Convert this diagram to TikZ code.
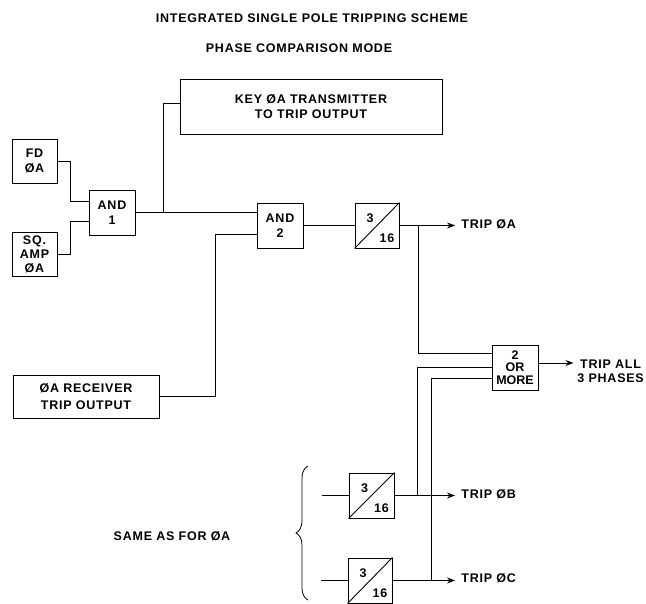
\documentclass[tikz,border=0pt]{standalone}
\usepackage{fontspec}
\setmainfont{Liberation Sans}[LetterSpace=6]
\usetikzlibrary{arrows.meta,decorations.pathreplacing,calc}
\begin{document}
\begin{tikzpicture}[x=1pt,y=-1pt,line width=0.9pt,
  every node/.style={font=\fontsize{12.5}{15}\selectfont\bfseries, inner sep=0pt},
  blk/.style={draw, align=center, minimum width=45pt, minimum height=44pt},
  wide/.style={draw, align=center},
  lbl/.style={align=left, anchor=west},
  arr/.style={-{Stealth[length=8pt,width=6pt]}, shorten >=6pt}]
\useasboundingbox (0,0) rectangle (646,604);
\node (t1) at (312,18) {INTEGRATED SINGLE POLE TRIPPING SCHEME};
\node (t2) at (299,48) {PHASE COMPARISON MODE};
\node[blk] (FD) at (34.5,161) {FD\\ØA};
\node[blk, font=\fontsize{12.5}{14}\selectfont\bfseries] (SQ) at (34.5,254) {SQ.\\AMP\\ØA};
\node[blk, minimum width=46pt, minimum height=45pt] (AND1) at (112,212.5) {AND\\1};
\node[wide, minimum width=262pt, minimum height=55pt] (KEY) at (311,106.5) {KEY ØA TRANSMITTER\\TO TRIP OUTPUT};
\node[blk, minimum width=46pt, minimum height=45pt] (AND2) at (280,225.5) {AND\\2};
\node[wide, minimum width=146pt, minimum height=43pt] (REC) at (86,396.5) {ØA RECEIVER\\[2pt]TRIP OUTPUT};
\node[blk, minimum width=44pt, minimum height=45pt] (T1) at (377,225.5) {};
\node[blk, minimum width=45pt, minimum height=45pt] (TB) at (371.5,495.5) {};
\node[blk, minimum width=44pt, minimum height=45pt] (TC) at (370,580.5) {};
\node[blk, minimum width=46pt, minimum height=45pt, font=\fontsize{12.5}{12.5}\selectfont\bfseries\addfontfeatures{LetterSpace=0}] (OR) at (515,367.5) {2\\OR\\MORE};
\foreach \n in {T1,TB,TC}{
  \draw (\n.south west) -- (\n.north east);
  \node (\n-a) at ([xshift=-7pt,yshift=7.5pt]\n.center) {3};
  \node (\n-b) at ([xshift=10pt,yshift=-12.5pt]\n.center) {16};
}
\node[lbl] (trA) at (461,224) {TRIP ØA};
\node[lbl] (trB) at (461,494) {TRIP ØB};
\node[lbl] (trC) at (461,578) {TRIP ØC};
\node[align=center, anchor=west, font=\fontsize{12.5}{13.5}\selectfont\bfseries] (trAll) at (577,371.5) {TRIP ALL\\3 PHASES};
\node (same) at (172,536) {SAME AS FOR ØA};
% connectors
\draw (FD.east) -- ++(13,0) |- ([yshift=11pt]AND1.west);
\draw (SQ.east) -- ++(13,0) |- ([yshift=-8.5pt]AND1.west);
\draw (AND1.east) -- (AND1.east -| AND2.west);
\draw (AND1.east) -- ++(28,0) |- ([yshift=3.5pt]KEY.west);
\draw (REC.east) -- ++(56,0) |- ([yshift=-8.5pt]AND2.west);
\draw (AND2.east) -- (T1.west);
\draw[arr] (T1.east) -- (T1.east -| trA.west);
\draw (T1.east) -- ++(19,0) |- ([yshift=14.5pt]OR.west);
\draw (TB.east) -- ++(23,0) |- ([yshift=0.5pt]OR.west);
\draw (TC.east) -- ++(39,0) |- ([yshift=-10.5pt]OR.west);
\draw[arr, shorten >=2pt] ([yshift=4.5pt]OR.east) -- ++(37,0) coordinate (allEnd);
\draw[arr] (TB.east) -- (TB.east -| trB.west);
\draw[arr] (TC.east) -- (TC.east -| trC.west);
\draw (TB.west) -- ++(-27,0);
\draw (TC.west) -- ++(-27,0);
\draw[line width=0.8pt, decorate, decoration={brace, amplitude=12pt}] (308,600) -- (308,466);
\end{tikzpicture}
\end{document}
